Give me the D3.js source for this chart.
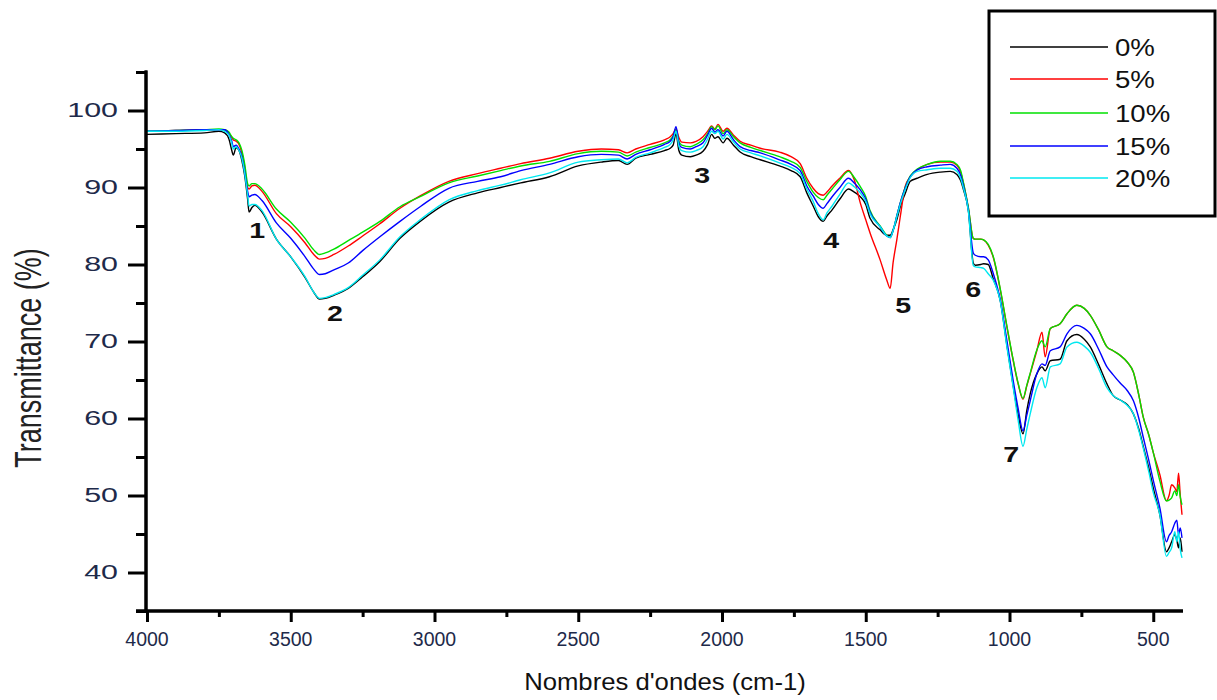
<!DOCTYPE html>
<html>
<head>
<meta charset="utf-8">
<script src="https://cdn.jsdelivr.net/npm/d3@7/dist/d3.min.js"></script>
<style>
  html, body { margin: 0; padding: 0; background: #fff; }
  svg { display: block; font-family: "Liberation Sans", Arial, sans-serif; }
</style>
</head>
<body>
<svg id="chart" width="1217" height="700"></svg>
<script>
// ---------------- DATA ----------------
const wavenumbers = [4000,3900,3800,3750,3730,3715,3705,3700,3690,3680,3670,3660,3650,3645,3635,3625,3600,3550,3500,3450,3420,3400,3380,3350,3300,3250,3190,3120,3050,2950,2850,2770,2700,2600,2500,2420,2360,2330,2300,2250,2200,2180,2170,2160,2150,2140,2110,2090,2066,2050,2036,2025,2014,1996,1983,1960,1937,1900,1867,1800,1760,1728,1705,1683,1665,1648,1635,1617,1590,1560,1540,1519,1500,1485,1450,1427,1415,1405,1392,1380,1363,1345,1321,1286,1240,1206,1183,1170,1160,1143,1126,1119,1100,1090,1074,1057,1032,1009,987,970,953,940,928,905,887,876,858,824,800,766,740,719,690,661,640,615,590,569,550,535,515,500,477,454,445,436,425,418,412,406,400];

const t0 = [96.9,97.0,97.1,97.3,97.1,96.3,94.8,94.2,95.2,94.8,93.5,91.5,88.5,86.8,87.4,87.7,86.8,83.3,81.0,78.3,76.4,75.5,75.6,76.0,76.9,78.4,80.4,83.4,85.6,88.1,89.3,90.0,90.6,91.4,92.8,93.3,93.5,93.0,93.8,94.3,94.8,95.1,95.5,97.0,94.8,94.2,94.0,94.2,94.7,95.6,96.9,96.4,96.6,95.8,96.4,95.5,94.6,94.0,93.6,92.8,92.2,91.4,89.3,87.6,86.2,85.6,86.3,87.1,88.5,89.8,89.4,88.8,87.8,86.0,84.5,83.8,83.8,84.5,85.8,87.5,89.2,90.8,91.2,91.7,92.0,92.1,91.7,90.9,89.7,87.0,80.2,79.9,80.0,80.1,80.0,78.2,75.3,69.5,64.2,60.5,58.0,61.0,63.2,65.8,66.7,66.2,67.5,67.7,70.1,70.9,70.3,69.3,67.0,64.5,63.0,62.4,61.8,60.6,58.6,56.4,53.5,51.0,47.5,42.7,43.2,44.0,44.9,44.2,43.2,44.5,42.7];

const t5 = [97.3,97.4,97.5,97.5,97.5,97.0,96.5,96.2,96.0,95.6,94.5,92.5,90.0,89.8,90.2,90.3,89.5,86.6,84.9,82.8,81.3,80.7,80.8,81.3,82.4,83.7,85.3,87.3,88.9,90.8,91.8,92.5,93.1,93.8,94.7,95.0,94.9,94.5,95.0,95.6,96.2,96.6,97.0,97.6,96.5,95.9,95.8,96.0,96.6,97.3,98.0,97.6,98.2,97.3,97.7,96.8,96.0,95.5,95.1,94.6,94.0,93.1,91.2,89.9,89.2,89.0,89.4,90.2,91.2,92.2,91.0,88.0,85.8,84.1,80.6,78.0,76.9,80.2,83.2,86.2,90.1,91.4,92.3,93.0,93.3,93.3,92.9,92.0,90.5,87.3,83.4,83.3,83.3,83.2,82.5,81.0,76.7,71.9,67.5,64.5,62.5,64.2,65.8,68.8,71.2,68.0,71.7,72.3,73.6,74.7,74.3,73.4,71.5,69.3,68.8,68.2,67.3,66.0,63.0,60.2,57.8,55.6,52.7,49.3,50.0,51.4,51.0,50.5,52.9,50.0,47.5];

const t10 = [97.3,97.4,97.5,97.6,97.5,97.2,96.6,96.4,96.2,95.8,94.8,93.0,90.5,90.2,90.5,90.5,89.8,87.2,85.5,83.4,81.9,81.3,81.5,82.0,83.1,84.2,85.6,87.5,88.8,90.6,91.5,92.2,92.8,93.4,94.4,94.7,94.6,94.1,94.6,95.2,95.8,96.2,96.7,97.5,96.0,95.5,95.3,95.6,96.2,97.0,97.9,97.5,98.0,97.0,97.5,96.6,95.8,95.2,94.8,94.0,93.4,92.6,90.8,89.4,88.7,88.4,89.0,89.8,91.0,92.1,91.3,90.1,88.8,87.0,85.0,83.8,83.5,84.4,86.3,88.0,90.0,91.5,92.4,93.0,93.4,93.4,93.0,92.2,90.6,87.4,83.4,83.3,83.3,83.2,82.6,81.1,76.8,72.0,67.6,64.6,62.6,64.3,65.9,68.9,70.1,69.3,71.7,72.3,73.6,74.7,74.3,73.4,71.5,69.3,68.8,68.2,67.3,66.0,63.0,60.2,57.8,55.6,51.9,49.3,49.4,49.7,50.6,50.0,51.4,49.8,48.8];

const t15 = [97.3,97.4,97.5,97.5,97.5,96.9,96.0,95.3,95.5,95.0,94.0,92.0,89.5,88.8,89.0,89.1,88.3,85.4,83.4,81.0,79.4,78.7,78.8,79.3,80.2,81.8,83.6,85.6,87.5,89.9,90.8,91.4,92.2,93.0,94.0,94.3,94.2,93.7,94.3,94.9,95.6,96.0,96.6,97.9,95.8,95.2,95.0,95.3,95.8,96.8,97.7,97.2,97.5,96.7,97.3,96.2,95.3,94.8,94.5,93.6,93.0,92.2,90.2,88.9,87.8,87.3,87.9,88.8,90.0,91.2,90.6,89.7,88.5,86.8,84.9,83.7,83.5,84.4,86.3,88.0,89.9,91.4,92.3,92.7,92.9,93.0,92.5,91.6,90.2,87.1,81.5,81.2,81.0,81.0,80.6,78.9,75.4,70.1,64.9,61.3,58.4,60.4,62.3,65.8,67.1,66.9,68.8,69.3,71.0,72.1,71.7,71.0,69.0,66.7,65.7,64.6,63.6,62.3,60.0,57.6,54.5,52.0,48.4,44.0,44.8,45.3,46.4,46.8,44.9,45.8,44.5];

const t20 = [97.3,97.3,97.4,97.5,97.3,96.8,95.7,95.0,95.3,94.8,93.8,91.8,89.0,87.6,87.8,87.8,87.0,83.3,81.0,78.4,76.4,75.6,75.7,76.1,77.0,78.6,80.6,83.6,85.8,88.4,89.6,90.3,91.0,91.9,93.3,93.6,93.7,93.2,93.9,94.5,95.2,95.6,96.2,97.3,95.4,94.8,94.6,94.8,95.3,96.3,97.3,97.0,97.3,96.3,96.9,95.9,95.0,94.5,94.1,93.2,92.6,91.8,89.8,88.2,86.6,85.8,86.7,87.6,89.1,90.6,90.1,89.3,88.2,86.6,84.9,83.7,83.5,84.4,86.2,87.8,89.7,91.3,92.1,92.3,92.5,92.5,92.1,91.2,89.9,86.9,79.9,79.7,79.6,79.5,78.8,78.0,75.2,69.3,64.0,59.8,56.4,58.6,60.6,64.0,65.3,64.0,66.7,67.1,69.3,69.9,69.4,68.6,66.5,64.0,63.0,62.4,61.7,60.6,58.4,56.2,53.0,50.4,47.5,42.1,42.6,43.2,45.3,44.0,45.3,43.0,41.9];

const seriesNames = ["0%", "5%", "10%", "15%", "20%"];
const seriesValues = [t0, t5, t10, t15, t20];
const seriesColors = ["#000000", "#ff0000", "#00e000", "#0000ff", "#00e8f0"];

const yMajorTicks = [40, 50, 60, 70, 80, 90, 100];
const yMinorTicks = [35, 45, 55, 65, 75, 85, 95, 105];
const xMajorTicks = [4000, 3500, 3000, 2500, 2000, 1500, 1000, 500];
const xMinorTicks = [3750, 3250, 2750, 2250, 1750, 1250, 750];

const bandLabels = ["1", "2", "3", "4", "5", "6", "7"];
const bandWn = [3617, 3346, 2069, 1620, 1370, 1126, 994];
const bandT = [83.4, 72.7, 90.6, 82.1, 73.7, 75.8, 54.4];

const xTitle = "Nombres d'ondes (cm-1)";
const yTitle = "Transmittance (%)";

// ---------------- DRAW ----------------
const svg = d3.select("#chart");
svg.append("rect").attr("width", 1217).attr("height", 700).attr("fill", "#fff");

const x = d3.scaleLinear().domain([4000, 400]).range([147, 1182]);
const y = d3.scaleLinear().domain([35, 105]).range([611, 72]);

// series lines
const line = d3.line()
  .x(d => x(d[0]))
  .y(d => y(d[1]))
  .curve(d3.curveMonotoneX);

seriesValues.forEach((vals, i) => {
  const pts = wavenumbers.map((w, k) => [w, vals[k]]);
  svg.append("path")
    .datum(pts)
    .attr("d", line)
    .attr("fill", "none")
    .attr("stroke", seriesColors[i])
    .attr("stroke-width", 1.4)
    .attr("stroke-linejoin", "round");
});

// axes
const yAxisMajor = d3.axisLeft(y).tickValues(yMajorTicks).tickSize(18).tickSizeOuter(0).tickFormat("");
const yAxisMinor = d3.axisLeft(y).tickValues(yMinorTicks).tickSize(10).tickSizeOuter(0).tickFormat("");
const xAxisMajor = d3.axisBottom(x).tickValues(xMajorTicks).tickSize(11).tickSizeOuter(0).tickFormat("");
const xAxisMinor = d3.axisBottom(x).tickValues(xMinorTicks).tickSize(6).tickSizeOuter(0).tickFormat("");

function styleAxis(g) {
  g.selectAll("path.domain").attr("stroke", "#000").attr("stroke-width", 3);
  g.selectAll(".tick line").attr("stroke", "#000").attr("stroke-width", 3);
}

const gy1 = svg.append("g").attr("transform", "translate(146,0)").call(yAxisMajor).call(styleAxis);
const gy2 = svg.append("g").attr("transform", "translate(146,0)").call(yAxisMinor).call(styleAxis);
const gx1 = svg.append("g").attr("transform", "translate(0,611)").call(xAxisMajor).call(styleAxis);
const gx2 = svg.append("g").attr("transform", "translate(0,611)").call(xAxisMinor).call(styleAxis);
gx2.select("path.domain").attr("d", `M${x(4000)-11},0H${x(400)+1}`);
gx1.select("path.domain").attr("d", `M${x(4000)-11},0H${x(400)+1}`);
gy1.select("path.domain").attr("d", `M0,${y(105)-1.5}V${y(35)+1.5}`);
gy2.select("path.domain").attr("d", `M0,${y(105)-1.5}V${y(35)+1.5}`);

// y tick labels (stretched horizontally as in the reference)
yMajorTicks.forEach(v => {
  svg.append("text")
    .attr("transform", `translate(118,${y(v) + 6.5}) scale(1.45,1)`)
    .attr("text-anchor", "end")
    .attr("font-size", 21)
    .attr("fill", "#1e2a4a")
    .text(v);
});

// x tick labels
xMajorTicks.forEach(v => {
  svg.append("text")
    .attr("x", x(v))
    .attr("y", 646)
    .attr("text-anchor", "middle")
    .attr("font-size", 19.5)
    .attr("fill", "#1e2a4a")
    .text(v);
});

// axis titles
svg.append("text")
  .attr("transform", "translate(665,690) scale(1.07,1)")
  .attr("text-anchor", "middle")
  .attr("font-size", 24)
  .attr("fill", "#111")
  .text(xTitle);

svg.append("text")
  .attr("transform", "translate(41,358) scale(1.4,1) rotate(-90)")
  .attr("text-anchor", "middle")
  .attr("font-size", 27)
  .attr("fill", "#222")
  .text(yTitle);

// band labels
bandLabels.forEach((lab, i) => {
  svg.append("text")
    .attr("transform", `translate(${x(bandWn[i])},${y(bandT[i])}) scale(1.3,1)`)
    .attr("text-anchor", "middle")
    .attr("font-size", 22)
    .attr("font-weight", "bold")
    .attr("fill", "#111")
    .text(lab);
});

// legend
const legend = svg.append("g");
legend.append("rect")
  .attr("x", 989).attr("y", 11).attr("width", 226).attr("height", 205)
  .attr("fill", "#fff").attr("stroke", "#000").attr("stroke-width", 3);
const legRowY = [47, 79, 113, 146, 178];
seriesNames.forEach((name, i) => {
  legend.append("line")
    .attr("x1", 1010).attr("x2", 1108)
    .attr("y1", legRowY[i]).attr("y2", legRowY[i])
    .attr("stroke", seriesColors[i]).attr("stroke-width", 2)
    .attr("stroke-opacity", 0.75);
  legend.append("text")
    .attr("transform", `translate(1115,${legRowY[i] + 8.5}) scale(1.15,1)`)
    .attr("font-size", 24)
    .attr("fill", "#111")
    .text(name);
});
</script>
</body>
</html>
